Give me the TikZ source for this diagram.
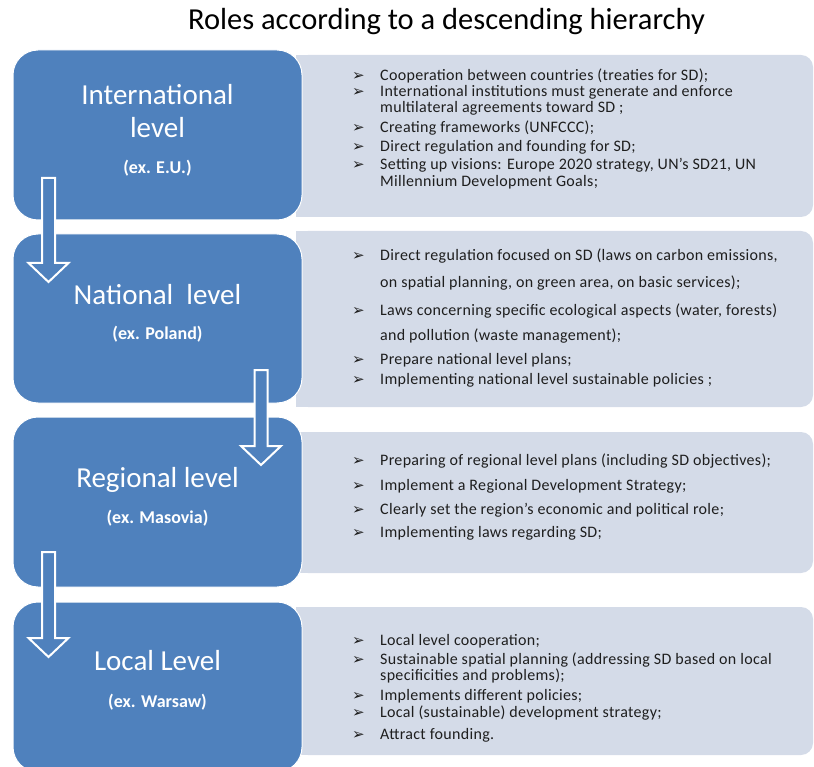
\documentclass[tikz,border=0pt]{standalone}
\usepackage{fontspec}
\setmainfont{Carlito}
\newfontfamily\symfont{DejaVu Sans}
\newfontfamily\itemfont[LetterSpace=2]{Carlito}
\usetikzlibrary{positioning}

\definecolor{lvlblue}{HTML}{4F81BD}
\definecolor{rolegrey}{HTML}{D4DBE8}
\definecolor{roletext}{HTML}{1E1E1E}

\newcommand{\bul}{\makebox[28pt][l]{\symfont\bfseries\fontsize{15}{15}\selectfont ➢}}
\newcommand{\blockarrow}[3]{%
  \filldraw[arrowbody] (#1-6.5,#2) -- (#1+6.5,#2) -- (#1+6.5,#3-19) -- (#1+20,#3-19)
    -- (#1,#3) -- (#1-20,#3-19) -- (#1-6.5,#3-19) -- cycle;}

\begin{document}
\begin{tikzpicture}[x=1pt,y=-1pt,
    level/.style={rounded corners=25pt,fill=lvlblue,draw=white,line width=1pt,
      minimum width=289pt,inner sep=0pt},
    lvlname/.style={text=white,align=center,anchor=base,
      font=\fontsize{29}{33}\selectfont},
    lvlex/.style={text=white,anchor=base,font=\fontsize{18}{20}\selectfont\bfseries},
    roles/.style={rounded corners=12pt,fill=rolegrey,minimum width=517pt,inner sep=0pt},
    item/.style={text=roletext,anchor=mid west,inner sep=0pt,
      font=\itemfont\fontsize{16}{16}\selectfont},
    arrowbody/.style={fill=lvlblue,draw=white,line width=2pt,line join=miter}]
  \useasboundingbox (0,0) rectangle (814,767);

  % title
  \node[font=\fontsize{30.5}{32}\selectfont] (title) at (446.5,22) {Roles according to a descending hierarchy};

  % grey role boxes
  \node[roles,minimum height=162pt] (g1) at (554.5,136) {};
  \node[roles,minimum height=176pt] (g2) at (554.5,319) {};
  \node[roles,minimum height=141pt] (g3) at (554.5,502.5) {};
  \node[roles,minimum height=148pt] (g4) at (554.5,681) {};
  \foreach \g in {g1,g2,g3,g4}
    \fill[rolegrey] (\g.north west) rectangle ([xshift=40pt]\g.south west);

  % blue level boxes
  \node[level,minimum height=170pt] (int) at (157.5,135) {};
  \node[level,minimum height=169pt] (nat) at (157.5,318.5) {};
  \node[level,minimum height=170pt] (reg) at (157.5,502) {};
  \node[level,minimum height=170pt] (loc) at (157.5,687) {};

  \node[lvlname] (intname) at (157.5,138) {International\\level};
  \node[lvlex] (intex) at (157.5,174) {(ex. E.U.)};
  \node[lvlname] (natname) at (157.5,305) {National\ \ level};
  \node[lvlex] (natex) at (157.5,340) {(ex. Poland)};
  \node[lvlname] (regname) at (157.5,487) {Regional level};
  \node[lvlex] (regex) at (157.5,523) {(ex. Masovia)};
  \node[lvlname] (locname) at (157.5,670) {Local Level};
  \node[lvlex] (locex) at (157.5,707) {(ex. Warsaw)};

  % arrows
  \blockarrow{48.5}{178}{282}
  \blockarrow{261}{370}{465}
  \blockarrow{48.5}{552}{657}

  % international roles
  \node[item] (i1) at (352,78) {\bul Cooperation between countries (treaties for SD);};
  \node[item] (i2) at (352,94) {\bul International institutions must generate and enforce};
  \node[item] (i2b) at (380,110) {multilateral agreements toward SD ;};
  \node[item] (i3) at (352,130) {\bul Creating frameworks (UNFCCC);};
  \node[item] (i4) at (352,149) {\bul Direct regulation and founding for SD;};
  \node[item] (i5) at (352,167) {\bul Setting up visions: Europe 2020 strategy, UN’s SD21, UN};
  \node[item] (i5b) at (380,184) {Millennium Development Goals;};

  % national roles
  \node[item] (n1) at (352,258) {\bul Direct regulation focused on SD (laws on carbon emissions,};
  \node[item] (n1b) at (380,285) {on spatial planning, on green area, on basic services);};
  \node[item] (n2) at (352,313) {\bul Laws concerning specific ecological aspects (water, forests)};
  \node[item] (n2b) at (380,338) {and pollution (waste management);};
  \node[item] (n3) at (352,362) {\bul Prepare national level plans;};
  \node[item] (n4) at (352,382) {\bul Implementing national level sustainable policies ;};

  % regional roles
  \node[item] (r1) at (352,463) {\bul Preparing of regional level plans (including SD objectives);};
  \node[item] (r2) at (352,488) {\bul Implement a Regional Development Strategy;};
  \node[item] (r3) at (352,512) {\bul Clearly set the region’s economic and political role;};
  \node[item] (r4) at (352,535) {\bul Implementing laws regarding SD;};

  % local roles
  \node[item] (l1) at (352,643) {\bul Local level cooperation;};
  \node[item] (l2) at (352,662) {\bul Sustainable spatial planning (addressing SD based on local};
  \node[item] (l2b) at (380,678) {specificities and problems);};
  \node[item] (l3) at (352,698) {\bul Implements different policies;};
  \node[item] (l4) at (352,715) {\bul Local (sustainable) development strategy;};
  \node[item] (l5) at (352,737) {\bul Attract founding.};
\end{tikzpicture}
\end{document}
